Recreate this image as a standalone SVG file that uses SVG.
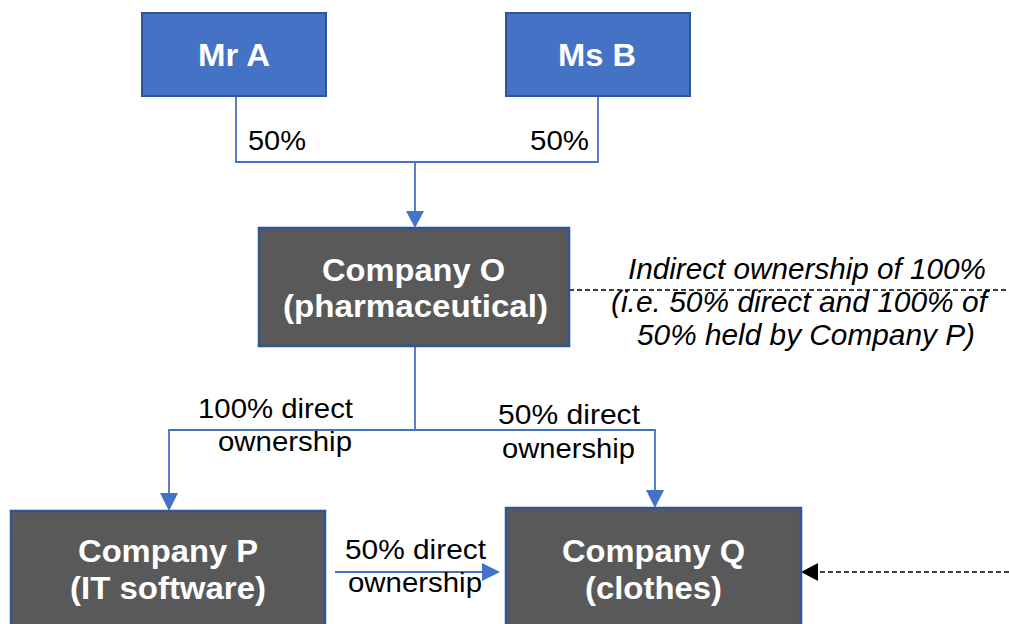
<svg xmlns="http://www.w3.org/2000/svg" width="1009" height="624" viewBox="0 0 1009 624">
<defs>
<style>
.person{fill:#4472C4;stroke:#2F5597;stroke-width:2}
.company{fill:#595959;stroke:#2F5597;stroke-width:2.5}
.bt{font-family:"Liberation Sans",Arial,sans-serif;font-weight:bold;font-size:32px;fill:#fff}
.lbl{font-family:"Liberation Sans",Arial,sans-serif;font-size:28px;fill:#000}
.it{font-family:"Liberation Sans",Arial,sans-serif;font-style:italic;font-size:29px;fill:#000}
.conn{fill:none;stroke:#4472C4;stroke-width:1.8}
.dash{fill:none;stroke:#000;stroke-width:1.3;stroke-dasharray:5 3}
</style>
</defs>
<rect width="1009" height="624" fill="#fff"/>

<g id="connectors">
<path class="conn" d="M236,96 V162 H598 V96"/>
<path class="conn" d="M415,162 V211"/>
<path d="M406,211 L424,211 L415,228 z" fill="#4472C4"/>
<path class="conn" d="M415,346 V430 H169 V493"/>
<path d="M160,493 L178,493 L169,511 z" fill="#4472C4"/>
<path class="conn" d="M415,430 H655 V490"/>
<path d="M646,490 L664,490 L655,508 z" fill="#4472C4"/>
<path class="conn" d="M335,572 H482"/>
<path d="M482,563 L482,581 L500,572 z" fill="#4472C4"/>
<path class="dash" d="M569,290 H1009"/>
<path class="dash" d="M1009,572 H818"/>
<path d="M818,563 L818,581 L801,572 z" fill="#000"/>
</g>

<g id="labels">
<text class="lbl" x="248" y="150" textLength="58" lengthAdjust="spacingAndGlyphs">50%</text>
<text class="lbl" x="530" y="150" textLength="59" lengthAdjust="spacingAndGlyphs">50%</text>
<text class="lbl" x="198" y="418" textLength="155" lengthAdjust="spacingAndGlyphs">100% direct</text>
<text class="lbl" x="218" y="451" textLength="134" lengthAdjust="spacingAndGlyphs">ownership</text>
<text class="lbl" x="498" y="424" textLength="142" lengthAdjust="spacingAndGlyphs">50% direct</text>
<text class="lbl" x="502" y="458" textLength="133" lengthAdjust="spacingAndGlyphs">ownership</text>
<text class="lbl" x="345" y="559" textLength="141" lengthAdjust="spacingAndGlyphs">50% direct</text>
<text class="lbl" x="348" y="592" textLength="134" lengthAdjust="spacingAndGlyphs">ownership</text>
<text class="it" x="628" y="279" textLength="358" lengthAdjust="spacingAndGlyphs">Indirect ownership of 100%</text>
<text class="it" x="611" y="312" textLength="376" lengthAdjust="spacingAndGlyphs">(i.e. 50% direct and 100% of</text>
<text class="it" x="637" y="345" textLength="338" lengthAdjust="spacingAndGlyphs">50% held by Company P)</text>
</g>

<g id="mrA">
<rect class="person" x="142" y="13" width="184" height="83"/>
<text class="bt" x="198" y="66" textLength="72" lengthAdjust="spacingAndGlyphs">Mr A</text>
</g>
<g id="msB">
<rect class="person" x="506" y="13" width="184" height="83"/>
<text class="bt" x="558" y="66" textLength="78" lengthAdjust="spacingAndGlyphs">Ms B</text>
</g>
<g id="companyO">
<rect class="company" x="259" y="228" width="310" height="118"/>
<text class="bt" x="322" y="281" textLength="183" lengthAdjust="spacingAndGlyphs">Company O</text>
<text class="bt" x="283" y="317" textLength="265" lengthAdjust="spacingAndGlyphs">(pharmaceutical)</text>
</g>
<g id="companyP">
<rect class="company" x="11" y="511" width="314" height="130"/>
<text class="bt" x="78" y="562" textLength="180" lengthAdjust="spacingAndGlyphs">Company P</text>
<text class="bt" x="70" y="599" textLength="196" lengthAdjust="spacingAndGlyphs">(IT software)</text>
</g>
<g id="companyQ">
<rect class="company" x="506" y="508" width="295" height="130"/>
<text class="bt" x="562" y="562" textLength="183" lengthAdjust="spacingAndGlyphs">Company Q</text>
<text class="bt" x="585" y="599" textLength="137" lengthAdjust="spacingAndGlyphs">(clothes)</text>
</g>
</svg>
